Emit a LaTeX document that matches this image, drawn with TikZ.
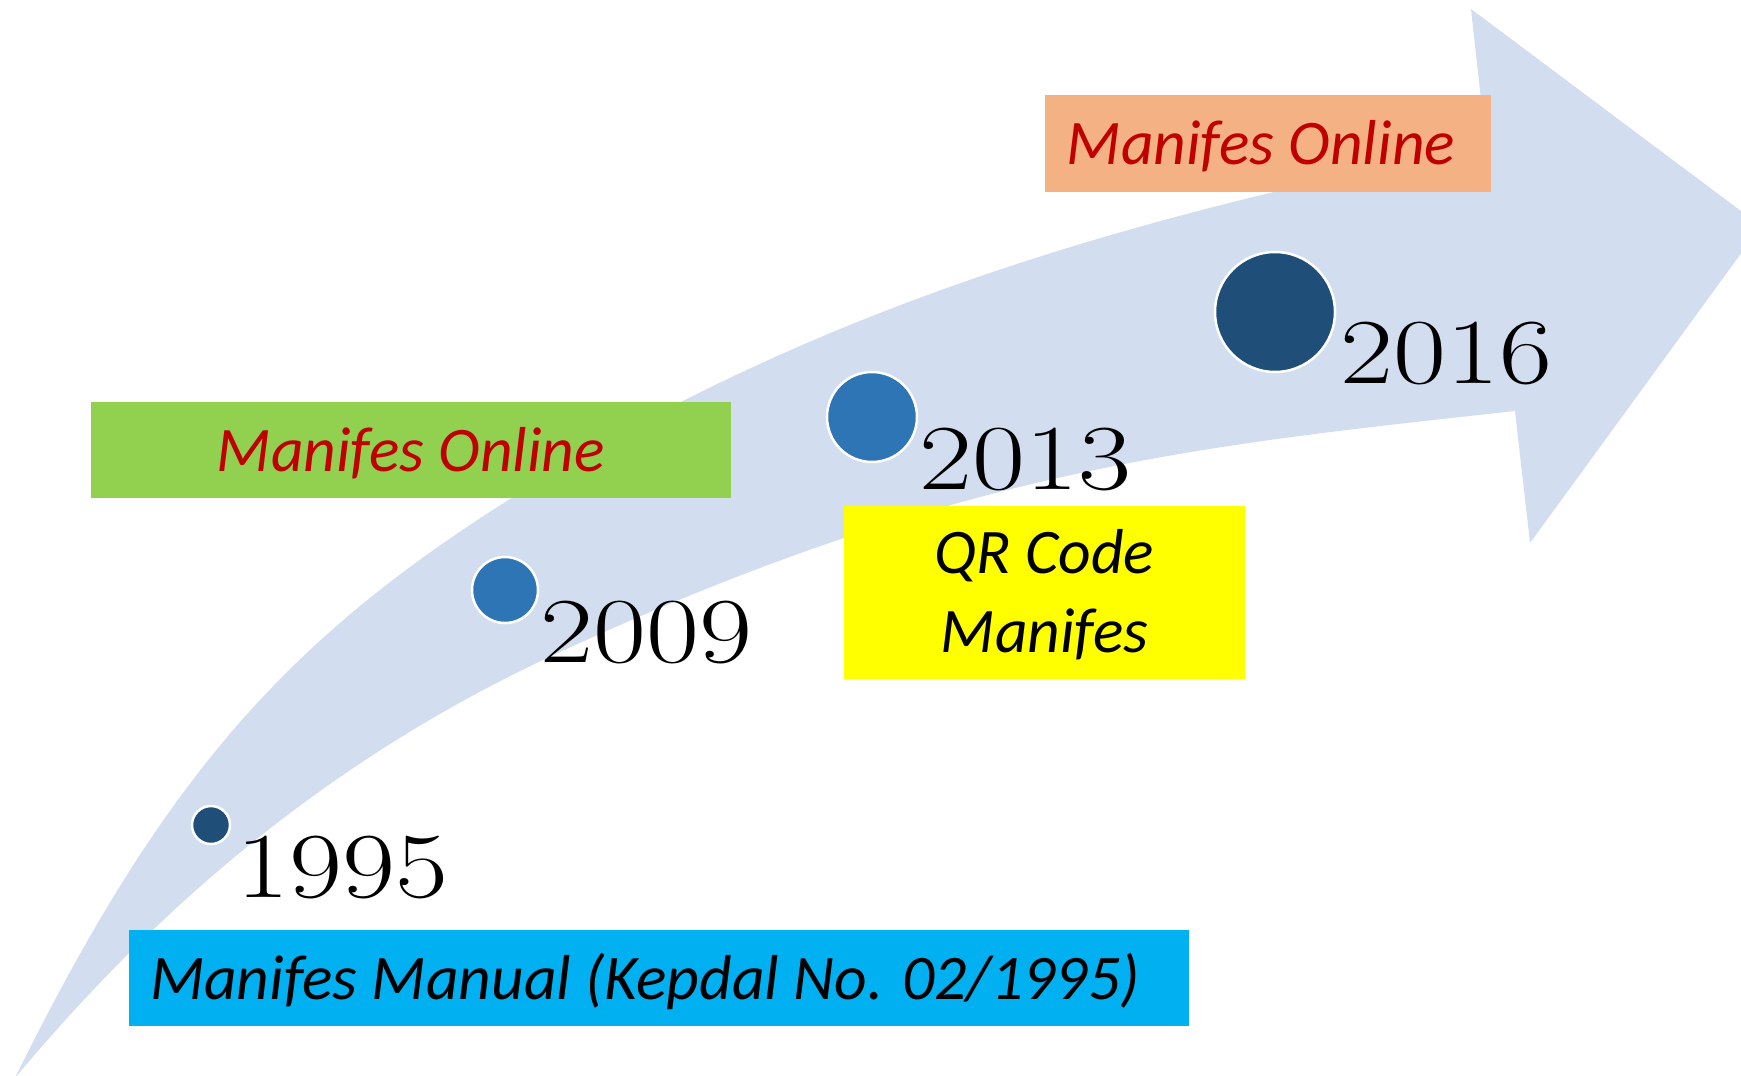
\documentclass[tikz,border=0pt]{standalone}
\usepackage{fontspec}
\usepackage{graphicx}
\newfontfamily\tagfamily{Carlito}
\newcommand\tagfont{\tagfamily\itshape\fontsize{63.5}{79}\selectfont}
\newcommand\yearfont{\rmfamily\fontsize{93}{93}\selectfont}
\newcommand\yeartext[1]{\scalebox{1.24}[1]{#1}}

\definecolor{bandblue}{HTML}{D2DEEF}
\definecolor{dotdark}{HTML}{1F4E79}
\definecolor{dotmid}{HTML}{2E75B6}
\definecolor{tagorange}{HTML}{F4B183}
\definecolor{taggreen}{HTML}{92D050}
\definecolor{tagyellow}{HTML}{FFFF00}
\definecolor{tagcyan}{HTML}{00B0F0}
\definecolor{tagred}{HTML}{C00000}

\tikzset{
  dot/.style={circle, draw=white, line width=2.5pt, inner sep=0pt},
  year/.style={anchor=base, inner sep=0pt, font=\yearfont, text=black},
  tag/.style={rectangle, inner sep=0pt, font=\tagfont,
              text height=42pt, text depth=0pt},
}

\begin{document}
\begin{tikzpicture}[x=1pt, y=-1pt]
\useasboundingbox (0,0) rectangle (1741,1076);

% curved timeline arrow
\fill[bandblue]
  (15,1078) .. controls (165,773.5) and (290,638) .. (510,499)
            .. controls (835,294) and (1161,212) .. (1486,145)
  -- (1471,9) -- (1761,226) -- (1530,543) -- (1515,411)
            .. controls (1197,446) and (960,468) .. (560,652)
            .. controls (380,734.8) and (195,862) .. (15,1078)
  -- cycle;

% milestone labels
\node[tag, fill=tagorange, text=tagred, minimum width=446pt, minimum height=97pt]
  (online2016) at (1268,143.5) {\hspace*{-14pt}Manifes Online};
\node[tag, fill=taggreen, text=tagred, minimum width=640pt, minimum height=96pt]
  (online2009) at (411,450) {Manifes Online};
\node[tag, fill=tagyellow, text=black, minimum width=401pt, minimum height=173pt,
      align=center, text height=120pt, text depth=1pt]
  (qrcode) at (1044.5,592.5) {QR Code\\Manifes};
\node[tag, fill=tagcyan, text=black, minimum width=1060pt, minimum height=96pt]
  (manual) at (659,978) {\makebox[1018pt][l]{Manifes Manual (Kepdal No. 02/1995)}};

% milestone dots
\node[dot, fill=dotdark, minimum size=38pt]  (d1995) at (211,825) {};
\node[dot, fill=dotmid,  minimum size=66pt]  (d2009) at (505,590) {};
\node[dot, fill=dotmid,  minimum size=90pt]  (d2013) at (872,417) {};
\node[dot, fill=dotdark, minimum size=120pt] (d2016) at (1275,312) {};

% years
\node[year] (y1995) at (342.5,897) {\yeartext{1995}};
\node[year] (y2009) at (646.5,662) {\yeartext{2009}};
\node[year] (y2013) at (1025.5,489) {\yeartext{2013}};
\node[year] (y2016) at (1446.5,383) {\yeartext{2016}};
\end{tikzpicture}
\end{document}
